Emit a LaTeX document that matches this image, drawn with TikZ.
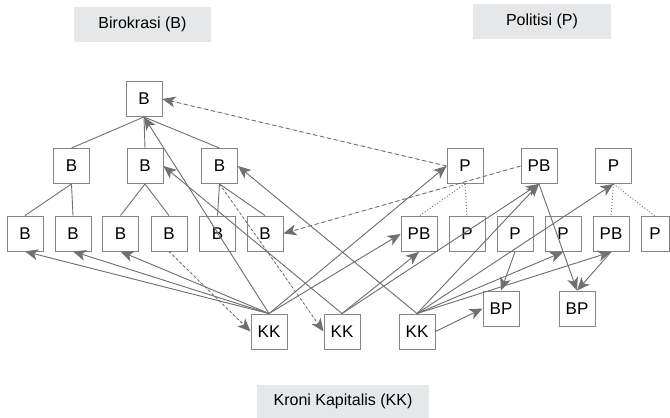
\documentclass[tikz,border=0pt]{standalone}
\usepackage{fontspec}
\setmainfont{Liberation Sans}
\usetikzlibrary{arrows.meta}
\definecolor{ln}{HTML}{707070}
\definecolor{bx}{HTML}{858585}
\definecolor{lbl}{HTML}{E6E7E8}
\tikzset{
  box/.style={draw=bx, line width=0.9pt, minimum width=36pt, minimum height=35pt, inner sep=0pt, font=\fontsize{17}{20}\selectfont},
  title/.style={fill=lbl, inner sep=0pt, font=\fontsize{16}{19}\selectfont},
  tree/.style={draw=ln, line width=0.9pt},
  arr/.style={draw=ln, line width=0.9pt, -{Stealth[length=13pt,width=11pt,inset=3.5pt]}, fill=ln},
  dasharr/.style={arr, dash pattern=on 4pt off 3pt},
  dotarr/.style={arr, dash pattern=on 2.5pt off 2.5pt},
  dotline/.style={draw=ln, line width=0.9pt, dash pattern=on 1pt off 2pt},
}
\begin{document}
\begin{tikzpicture}[x=1pt,y=-1pt]
\useasboundingbox (0,0) rectangle (670,418);
% titles
\node[title, minimum width=137pt, minimum height=35pt] (tB) at (142.5,24.5) {Birokrasi (B)};
\node[title, minimum width=138pt, minimum height=35pt] (tP) at (542,21) {Politisi (P)};
\node[title, minimum width=172pt, minimum height=33pt] (tK) at (343,401.5) {Kroni Kapitalis (KK)};
% B tree
\node[box] (topB) at (144,99) {B};
\node[box] (B2a) at (71.5,166) {B};
\node[box] (B2b) at (145,166) {B};
\node[box] (B2c) at (219.5,166) {B};
\node[box] (B3a) at (25,233.5) {B};
\node[box] (B3b) at (73,233.5) {B};
\node[box] (B3c) at (120.5,233.5) {B};
\node[box] (B3d) at (169,233.5) {B};
\node[box] (B3e) at (217.5,233.5) {B};
\node[box] (B3f) at (265,233.5) {B};
% P tree
\node[box] (P1) at (465,166) {P};
\node[box] (PB1) at (539,166) {PB};
\node[box] (P2) at (613.5,166) {P};
\node[box] (PB3a) at (419,234) {PB};
\node[box] (P3a) at (467,234) {P};
\node[box] (P3b) at (515,234) {P};
\node[box] (P3c) at (563,234) {P};
\node[box] (PB3b) at (611,234) {PB};
\node[box, minimum width=28pt] (P3d) at (655,234) {P};
% KK and BP
\node[box] (KK1) at (269,331.5) {KK};
\node[box] (KK2) at (342,331.5) {KK};
\node[box] (KK3) at (417,331.5) {KK};
\node[box] (BP1) at (501,308.5) {BP};
\node[box] (BP2) at (577,308.5) {BP};
% tree lines
\draw[tree] (topB.south) -- (B2a.north);
\draw[tree] (topB.south) -- (B2b.north);
\draw[tree] (topB.south) -- (B2c.north);
\draw[tree] (B2a.south) -- (B3a.north);
\draw[tree] (B2a.south) -- (B3b.north);
\draw[tree] (B2b.south) -- (B3c.north);
\draw[tree] (B2b.south) -- (B3d.north);
\draw[tree] (B2c.south) -- (B3e.north);
\draw[tree] (B2c.south) -- (B3f.north);
% P dotted tree
\draw[dotline] (P1.south) -- (PB3a.north);
\draw[dotline] (P1.south) -- (P3a.north);
\draw[dotline] (P2.south) -- (PB3b.north);
\draw[dotline] (P2.south) -- (P3d.north);
% dashed P -> B
\path[dasharr] (P1.west) -- (topB.east);
\path[dasharr] (PB1.west) -- (B3f.east);
% dotted B -> KK
\path[dotarr] (B3d.south) -- (KK1.west);
\path[dotarr] (B2c.south) -- (KK2.west);
% KK1
\path[arr] (KK1.north) -- (B3a.south);
\path[arr] (KK1.north) -- (B3b.south);
\path[arr] (KK1.north) -- (B3c.south);
\path[arr] (KK1.north) -- (topB.south);
\path[arr] (KK1.north) -- (P1.west);
\path[arr] (KK1.north) -- (PB3a.west);
% KK2
\path[arr] (KK2.north) -- (B2b.east);
\path[arr] (KK2.north) -- (PB3a.south);
\path[arr] (KK2.north) -- (PB1.south);
% KK3
\path[arr] (KK3.north) -- (B2c.east);
\path[arr] (KK3.north) -- (PB1.south);
\path[arr] (KK3.north) -- (P2.south);
\path[arr] (KK3.north) -- (P3c.south);
\path[arr] (KK3.north) -- (PB3b.south);
\path[arr] (KK3.east) -- (BP1.west);
% P -> BP
\path[arr] (P3b.south) -- (BP1.north);
\path[arr] (PB1.south) -- (BP2.north);
\path[arr] (PB3b.south) -- (BP2.north);
\end{tikzpicture}
\end{document}
